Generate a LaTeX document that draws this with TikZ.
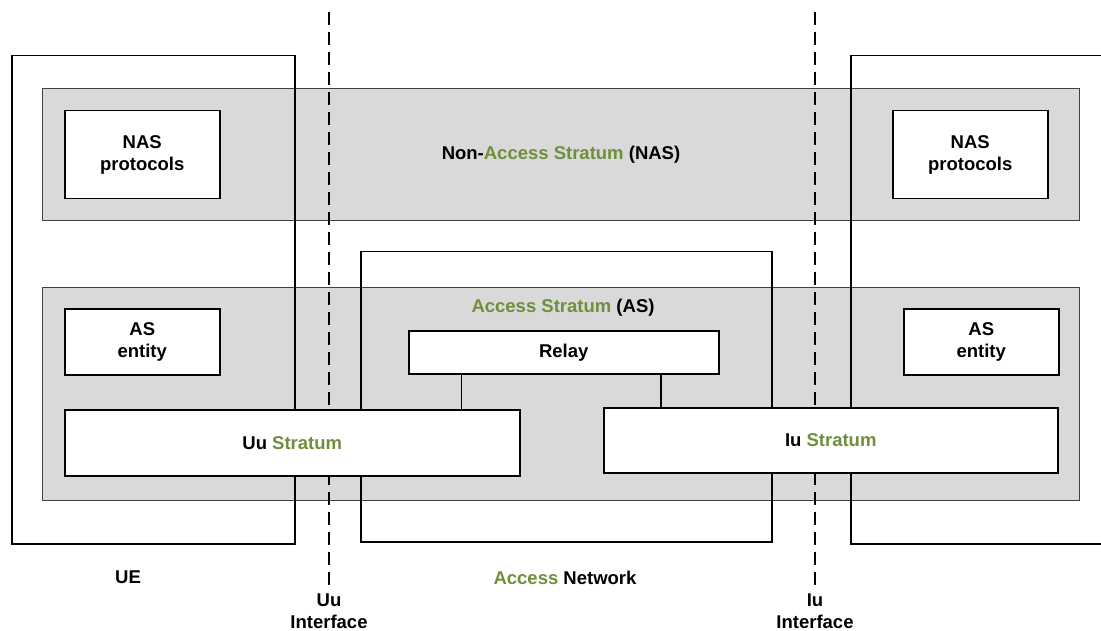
\documentclass[tikz,border=0pt]{standalone}
\usepackage{fontspec}
\setmainfont{Liberation Sans}
\usetikzlibrary{calc,positioning}
\definecolor{stratgreen}{RGB}{111,143,60}
\definecolor{bandgrey}{RGB}{217,217,217}
\newcommand{\gr}[1]{\textcolor{stratgreen}{#1}}
\begin{document}
\begin{tikzpicture}[x=1pt,y=-1pt,
  font=\fontsize{18.5}{22}\selectfont\bfseries,
  band/.style={draw=black!75, fill=bandgrey, line width=1pt, anchor=north west, inner sep=0pt},
  frame/.style={draw=black, line width=1.5pt, anchor=north west, inner sep=0pt},
  box/.style={draw=black, fill=white, line width=1.5pt, anchor=north west, align=center, inner sep=0pt},
  iface/.style={draw=black, line width=1.4pt, dash pattern=on 13pt off 7pt},
  lbl/.style={align=center, inner sep=0pt}]

\path[use as bounding box, clip] (0,0) rectangle (1101,631);

% grey strata bands
\node[band, minimum width=1037, minimum height=132] (nas) at (42,88)
  {Non-\gr{Access Stratum} (NAS)};
\node[band, minimum width=1037, minimum height=213] (as) at (42,287) {};

% UE, access network and core network frames
\node[frame, minimum width=283, minimum height=488] (ue) at (11,55) {};
\node[frame, minimum width=411, minimum height=290] (an) at (360,251) {};
\node[frame, minimum width=300, minimum height=488] (cn) at (850,55) {};

% interface reference lines
\coordinate (uutop) at (329,12);
\coordinate (uubot) at (329,585);
\coordinate (iutop) at (815,12);
\coordinate (iubot) at (815,585);
\draw[iface] (uutop) -- (uubot);
\draw[iface] (iutop) -- (iubot);

% NAS protocol entities
\node[box, minimum width=155, minimum height=88] (nasL) at (64,110) {NAS\\protocols};
\node[box, minimum width=155, minimum height=88] (nasR) at (892,110) {NAS\\protocols};

% AS entities and strata
\node[lbl] (aslbl) at (563,308) {\gr{Access Stratum} (AS)};
\node[box, minimum width=155, minimum height=66] (asL) at (64,308) {AS\\entity};
\node[box, minimum width=155, minimum height=66] (asR) at (903,308) {AS\\entity};
\node[box, minimum width=310, minimum height=43] (relay) at (408,330) {Relay};
\node[box, minimum width=455, minimum height=66] (uu) at (64,409) {Uu \gr{Stratum}};
\node[box, minimum width=454, minimum height=65] (iu) at (603,407) {Iu \gr{Stratum}};

% relay links to the two strata
\coordinate (rl) at ($(relay.south west)!0.171!(relay.south east)$);
\coordinate (rr) at ($(relay.south west)!0.8125!(relay.south east)$);
\draw[line width=1.5pt] (rl) -- (rl |- uu.north);
\draw[line width=1.5pt] (rr) -- (rr |- iu.north);

% domain and interface captions
\node[lbl] (uelbl) at (128,577) {UE};
\node[lbl] (anlbl) at (565,578) {\gr{Access} Network};
\node[lbl, below=9pt of uubot] (uulbl) {Uu\\Interface};
\node[lbl, below=9pt of iubot] (iulbl) {Iu\\Interface};
\end{tikzpicture}
\end{document}
